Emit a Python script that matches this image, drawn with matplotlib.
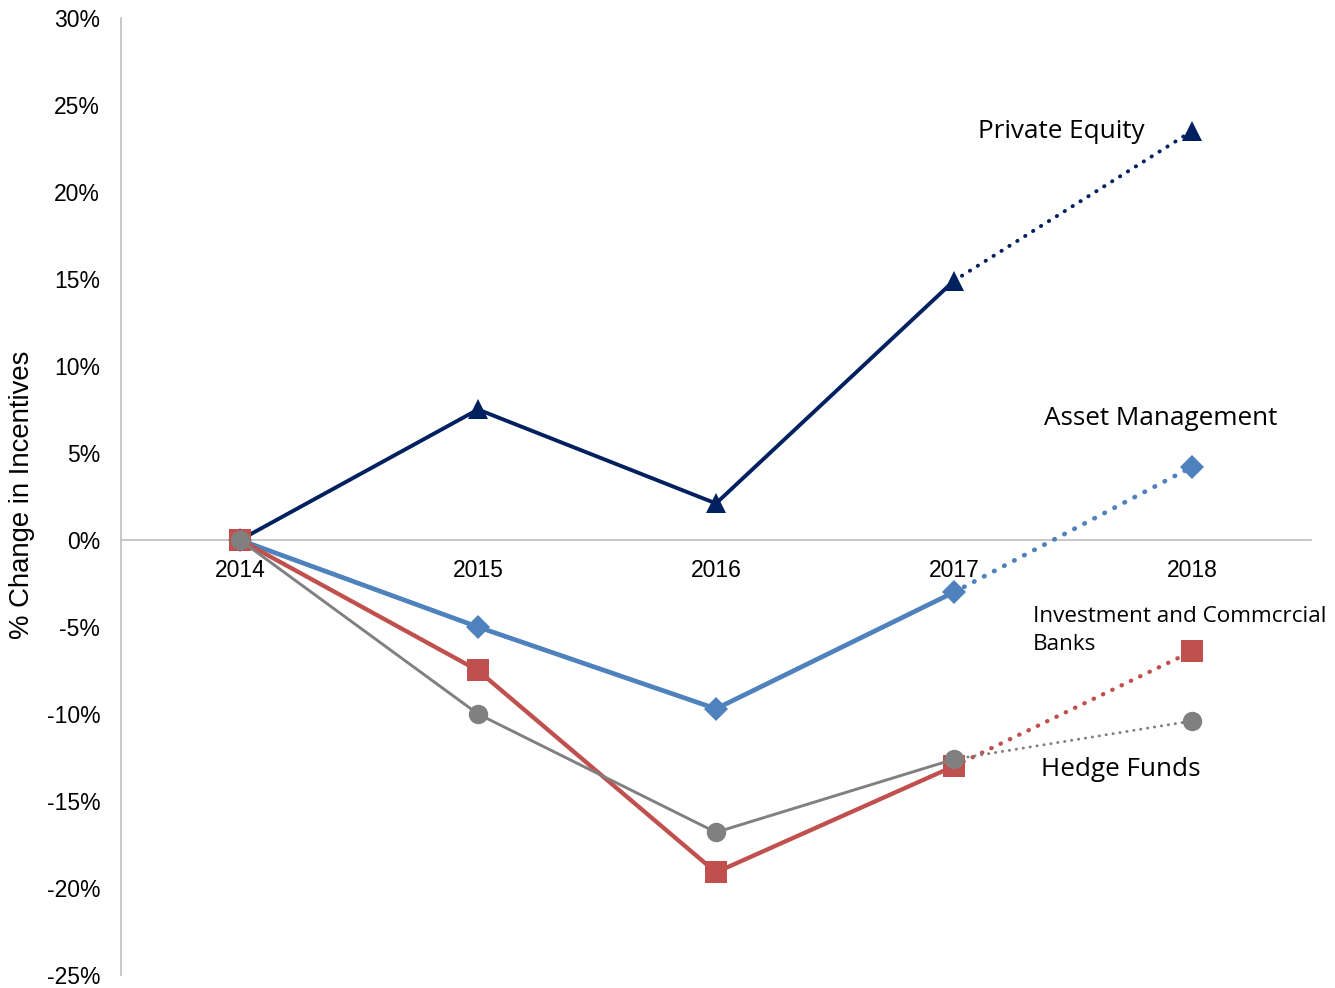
import numpy as np
from matplotlib import pyplot as plt

years = ['2014', '2015', '2016', '2017', '2018']
private_equity = [0.0, 7.5, 2.1, 14.9, 23.5]
asset_mgmt = [0.0, -5.0, -9.7, -3.0, 4.2]
banks = [0.0, -7.5, -19.1, -13.0, -6.4]
hedge_funds = [0.0, -10.0, -16.8, -12.6, -10.4]

y_ticks = [30, 25, 20, 15, 10, 5, 0, -5, -10, -15, -20, -25]

fig = plt.figure(figsize=(13.35, 9.88), dpi=100)
ax = fig.add_axes([121 / 1335, 1 - 975 / 988, 1190 / 1335, 957 / 988])

# move the x axis to zero first (this resets tick settings)
ax.spines['top'].set_visible(False)
ax.spines['right'].set_visible(False)
ax.spines['bottom'].set_position(('data', 0))
ax.spines['bottom'].set_color('#BFBFBF')
ax.spines['left'].set_color('#BFBFBF')
ax.spines['bottom'].set_linewidth(1.2)
ax.spines['left'].set_linewidth(1.2)

x = np.arange(len(years))

# (values, color, marker, marker size, line width)
series = [
    (private_equity, '#002060', '^', 15, 2.8),
    (asset_mgmt, '#4F81BD', 'D', 12, 3.4),
    (banks, '#C0504D', 's', 15.5, 3.1),
    (hedge_funds, '#808080', 'o', 14, 2.1),
]

for i, (vals, col, mk, ms, lw) in enumerate(series):
    z = 3 + i
    # solid part 2014-2017
    ax.plot(x[:4], vals[:4], color=col, lw=lw, marker=mk, ms=ms,
            markeredgewidth=0, zorder=z, solid_joinstyle='miter')
    # dotted projection 2017-2018
    ax.plot(x[3:], vals[3:], color=col, lw=lw, linestyle=(0, (0.1, 2.3)),
            dash_capstyle='round', zorder=z)
    ax.plot(x[4:], vals[4:], color=col, marker=mk, ms=ms,
            markeredgewidth=0, linestyle='none', zorder=z)

ax.set_xlim(-0.5, 4.5)
ax.set_ylim(-25, 30)
ax.set_xticks(x)
ax.set_xticklabels(years, fontsize=16.5, family='Liberation Sans')
ax.set_yticks(y_ticks)
ax.set_yticklabels(['%d%%' % v for v in y_ticks], fontsize=16.5,
                   family='Liberation Sans')
ax.tick_params(axis='both', length=0)
ax.tick_params(axis='y', pad=15)
ax.tick_params(axis='x', pad=14)

fig.text(22 / 1335, 1 - 495 / 988, '% Change in Incentives', rotation=90,
         ha='center', va='center', fontsize=19.8, family='Liberation Sans')

lab_font = dict(fontsize=18.8, family='Open Sans', color='black')
ax.text(3.45, 23.5, 'Private Equity', ha='center', va='center', **lab_font)
ax.text(3.87, 7.0, 'Asset Management', ha='center', va='center', **lab_font)
ax.text(3.33, -5.2, 'Investment and Commcrcial\nBanks', ha='left',
        va='center', linespacing=1.45, fontsize=16.2, family='Open Sans')
ax.text(3.70, -13.2, 'Hedge Funds', ha='center', va='center', **lab_font)

fig.savefig('out.png', dpi=100)
